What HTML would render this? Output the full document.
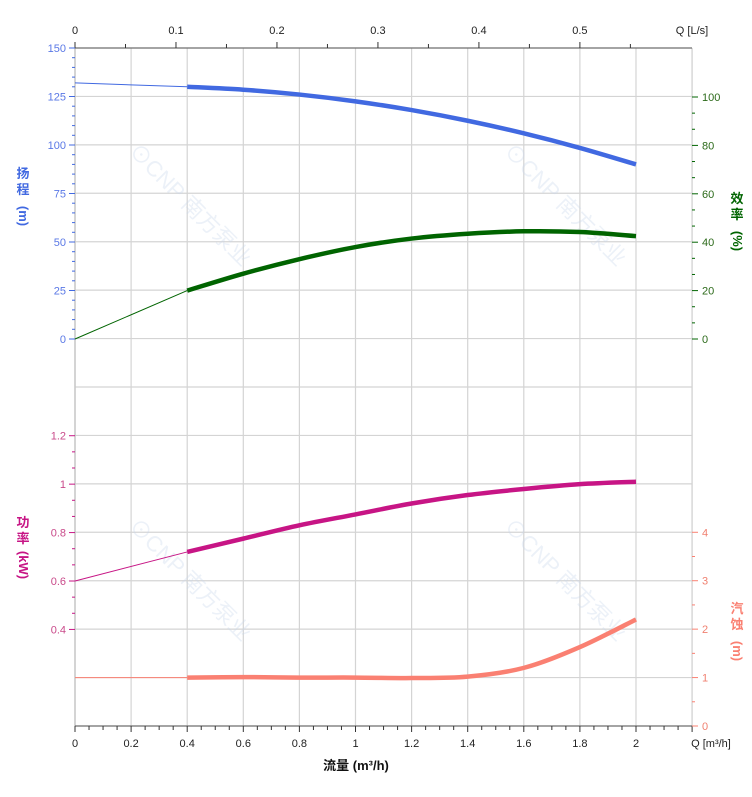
<!DOCTYPE html>
<html><head><meta charset="utf-8"><style>
html,body{margin:0;padding:0;background:#fff;}
svg{display:block;font-family:"Liberation Sans","Noto Sans CJK SC",sans-serif;}
</style></head><body>
<svg id="c" width="752" height="797" viewBox="0 0 752 797"></svg>
<script>
const flowQ = [0, 0.4, 0.6, 0.8, 1.0, 1.2, 1.4, 1.6, 1.8, 2.0];
const headVals = [132, 130, 128.5, 126, 122.5, 118, 112.5, 106, 98.5, 90];
const effVals = [0, 20, 27, 33, 38, 41.5, 43.5, 44.5, 44.2, 42.5];
const powerVals = [0.6, 0.72, 0.775, 0.83, 0.875, 0.92, 0.955, 0.98, 1.0, 1.01];
const npshVals = [1, 1, 1.01, 1.0, 1.0, 0.99, 1.02, 1.2, 1.63, 2.2];
const xTicks = [0, 0.2, 0.4, 0.6, 0.8, 1, 1.2, 1.4, 1.6, 1.8, 2];
const topTicks = [0, 0.1, 0.2, 0.3, 0.4, 0.5];
const headTicks = [0, 25, 50, 75, 100, 125, 150];
const effTicks = [0, 20, 40, 60, 80, 100];
const powerTicks = [0.4, 0.6, 0.8, 1, 1.2];
const npshTicks = [0, 1, 2, 3, 4];

const L=75, R=692, T=48, B=726, STEP=(B-T)/14;
const X = q => L + q*280.5;
const XLs = q => L + q*3.6*280.5;
const YH = v => 339 - v*(339-T)/150;
const YE = v => 339 - v*(339-97)/100;
const YP = v => 581 - (v-0.6)*(STEP/0.2);
const YN = v => B - v*STEP;
const svg = document.getElementById('c');
const NS='http://www.w3.org/2000/svg';
function mk(tag, attrs, parent){const e=document.createElementNS(NS,tag);for(const k in attrs)e.setAttribute(k,attrs[k]);(parent||svg).appendChild(e);return e;}
function txt(s, attrs){const e=mk('text',attrs);e.textContent=s;return e;}

// grid
const grid = mk('g',{});


for(let i=0;i<=14;i++){mk('line',{x1:L,x2:R,y1:T+i*STEP,y2:T+i*STEP,stroke:'#d4d4d4','stroke-width':1.2},grid);}
for(let q=0;q<=2.21;q+=0.2){mk('line',{x1:X(q),x2:X(q),y1:T,y2:B,stroke:'#d4d4d4','stroke-width':1.2},grid);}
mk('line',{x1:R,x2:R,y1:T,y2:B,stroke:'#d4d4d4','stroke-width':1.2},grid);

// watermarks
[[185,210],[560,210],[185,585],[560,585]].forEach(p=>{
  const w=txt('⊙CNP 南方泵业',{x:p[0],y:p[1],'font-size':22,'font-weight':'normal',fill:'#c9d8ea','fill-opacity':0.35,'text-anchor':'middle',transform:`rotate(45 ${p[0]} ${p[1]})`});
  
  
});

// axes lines
mk('line',{x1:L,x2:L,y1:T,y2:B,stroke:'#c8c8c8','stroke-width':1.5});
mk('line',{x1:L,x2:R,y1:B,y2:B,stroke:'#555','stroke-width':1});
mk('line',{x1:L,x2:R,y1:T,y2:T,stroke:'#555','stroke-width':1});

// bottom axis
for(let i=0;i<=44;i++){const q=i*0.05;const x=X(q);if(x>R+1)break;mk('line',{x1:x,x2:x,y1:B,y2:B+(i%4==0?6:4),stroke:'#333'});}
xTicks.forEach(v=>{const t=txt(String(v),{x:X(v),y:B+21,'font-size':11,'text-anchor':'middle',fill:'#222'});});
txt('Q [m³/h]',{x:711,y:B+21,'font-size':11,'text-anchor':'middle',fill:'#222'});
const xt=txt('流量 (m³/h)',{x:356,y:770,'font-size':13,'font-weight':'bold','text-anchor':'middle',fill:'#111'});



// top axis
for(let i=0;i<=11;i++){const x=XLs(i*0.05);if(x>R)break;mk('line',{x1:x,x2:x,y1:T,y2:T-(i%2==0?6:4),stroke:'#333'});}
topTicks.forEach(v=>{const t=txt(String(v),{x:XLs(v),y:34,'font-size':11,'text-anchor':'middle',fill:'#222'});});
txt('Q [L/s]',{x:692,y:34,'font-size':11,'text-anchor':'middle',fill:'#222'});

// left head axis
for(let v=0;v<=150;v+=5){mk('line',{x1:L-(v%25==0?6:3),x2:L,y1:YH(v),y2:YH(v),stroke:'#4169e1'});}
headTicks.forEach(v=>{const t=txt(String(v),{x:L-9,y:YH(v)+4,'font-size':11,'text-anchor':'end',fill:'#5a78e6'});});
// left power axis
for(let i=0;i<=15;i++){const v=0.4+i*0.2/3;if(v>1.21)break;mk('line',{x1:L-(i%3==0?6:3),x2:L,y1:YP(v),y2:YP(v),stroke:'#c71585'});}
powerTicks.forEach(v=>{const t=txt(String(v),{x:L-9,y:YP(v)+4,'font-size':11,'text-anchor':'end',fill:'#c94a8a'});});
// right eff axis
for(let i=0;i<=15;i++){const v=i*20/3;mk('line',{x1:R,x2:R+(i%3==0?6:3),y1:YE(v),y2:YE(v),stroke:'#006400'});}
effTicks.forEach(v=>{const t=txt(String(v),{x:R+10,y:YE(v)+4,'font-size':11,fill:'#2c6a1a'});});
// right npsh axis
for(let i=0;i<=8;i++){const v=i*0.5;mk('line',{x1:R,x2:R+(i%2==0?6:3),y1:YN(v),y2:YN(v),stroke:'#fa8072'});}
npshTicks.forEach(v=>{const t=txt(String(v),{x:R+10,y:YN(v)+4,'font-size':11,fill:'#f08070'});});

// axis titles
function vtitle(ch1,ch2,unit,x,y,col,name){
  const g=mk('g',{fill:col,'font-size':13,'font-weight':'bold'});
  
  
  mk('text',{x:x,y:y,'text-anchor':'middle'},g).textContent=ch1;
  mk('text',{x:x,y:y+16,'text-anchor':'middle'},g).textContent=ch2;
  mk('text',{x:x,y:y+42,'text-anchor':'middle',transform:`rotate(90 ${x} ${y+38})`},g).textContent=unit;
}
vtitle('扬','程','(m)',23,178,'#4169e1','head-axis-title');
vtitle('效','率','(%)',737,203,'#006400','efficiency-axis-title');
vtitle('功','率','(kW)',23,527,'#c71585','power-axis-title');
vtitle('汽','蚀','(m)',737,613,'#fa8072','npsh-axis-title');

// curves
function pathFrom(xs,ys){
  let d=`M${xs[0]},${ys[0]}`;
  for(let i=0;i<xs.length-1;i++){
    const x0=xs[i-1]??xs[i],y0=ys[i-1]??ys[i],x3=xs[i+2]??xs[i+1],y3=ys[i+2]??ys[i+1];
    const c1x=xs[i]+(xs[i+1]-x0)/6,c1y=ys[i]+(ys[i+1]-y0)/6;
    const c2x=xs[i+1]-(x3-xs[i])/6,c2y=ys[i+1]-(y3-ys[i])/6;
    d+=` C${c1x},${c1y} ${c2x},${c2y} ${xs[i+1]},${ys[i+1]}`;
  }
  return d;
}
function curve(vals,yf,col,name){
  const xs=flowQ.map(X),ys=vals.map(yf);
  const thin=mk('path',{d:`M${xs[0]},${ys[0]} L${xs[1]},${ys[1]}`,stroke:col,'stroke-width':1,fill:'none'});
  
  
  const p=mk('path',{d:pathFrom(xs.slice(1),ys.slice(1)),stroke:col,'stroke-width':4.5,fill:'none','stroke-linecap':'butt'});
  
  
}
curve(headVals,YH,'#4169e1','head-curve');
curve(effVals,YE,'#006400','efficiency-curve');
curve(powerVals,YP,'#c71585','power-curve');
curve(npshVals,YN,'#fa8072','npsh-curve');
</script>
</body></html>
